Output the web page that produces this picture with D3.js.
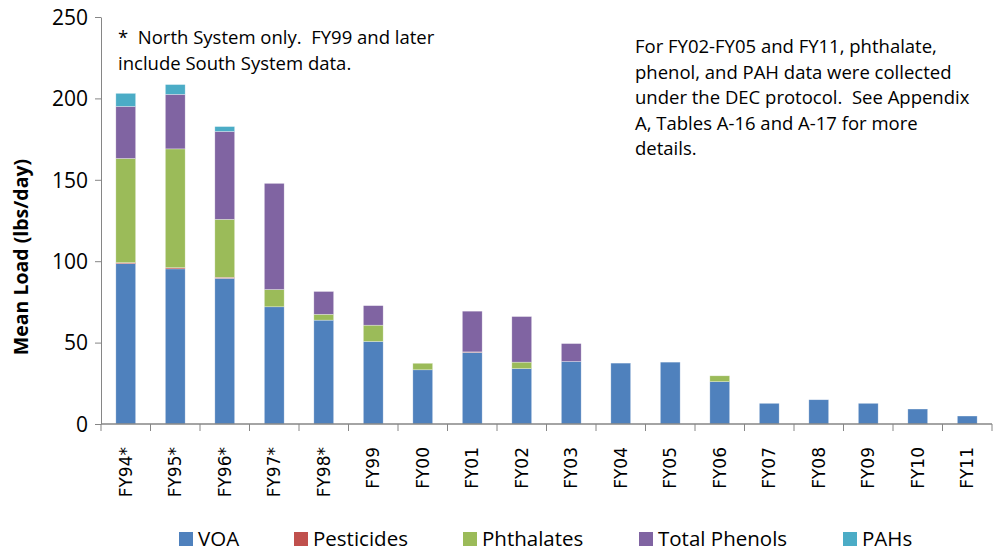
<!DOCTYPE html>
<html>
<head>
<meta charset="utf-8">
<script src="https://cdn.jsdelivr.net/npm/d3@7"></script>
<style>
  body { margin: 0; background: #fff; }
  svg text { fill: #000; }
</style>
</head>
<body>
<div class="chart"></div>
<script>
// categories and series
var years = ['FY94*', 'FY95*', 'FY96*', 'FY97*', 'FY98*', 'FY99', 'FY00', 'FY01', 'FY02',
  'FY03', 'FY04', 'FY05', 'FY06', 'FY07', 'FY08', 'FY09', 'FY10', 'FY11'];
var voa        = [98.5, 95.3, 89.5, 72, 63.8, 50.7, 33.3, 44, 34, 38.4, 37.4, 38, 26, 12.7, 14.9, 12.7, 9.2, 4.9];
var pesticides = [0.6, 0.7, 0.6, 0, 0, 0, 0, 0.3, 0, 0, 0, 0, 0, 0, 0, 0, 0, 0];
var phthalates = [64, 73, 35.6, 10.6, 3.6, 10, 4, 0, 4, 0, 0, 0, 3.6, 0, 0, 0, 0, 0];
var phenols    = [32, 33.5, 54, 65.2, 14, 12, 0, 25, 28, 11, 0, 0, 0, 0, 0, 0, 0, 0];
var pahs       = [8, 6, 3, 0, 0, 0, 0, 0, 0, 0, 0, 0, 0, 0, 0, 0, 0, 0];
var yTicks = [0, 50, 100, 150, 200, 250];

var seriesNames = ['VOA', 'Pesticides', 'Phthalates', 'Total Phenols', 'PAHs'];
var seriesValues = [voa, pesticides, phthalates, phenols, pahs];
var colors = ['#4f81bd', '#c0504d', '#9bbb59', '#8064a2', '#4bacc6'];

var noteLeft = ['*  North System only.  FY99 and later', 'include South System data.'];
var noteRight = ['For FY02-FY05 and FY11, phthalate,', 'phenol, and PAH data were collected',
  'under the DEC protocol.  See Appendix', 'A, Tables A-16 and A-17 for more', 'details.'];

var W = 994, H = 552;
var plot = { left: 101, right: 992, top: 17, bottom: 424 };

var svg = d3.select('.chart').append('svg')
  .attr('width', W).attr('height', H);

var x = d3.scaleBand().domain(years).range([plot.left, plot.right]).paddingInner(0.6).paddingOuter(0.3);
var y = d3.scaleLinear().domain([0, 250]).range([plot.bottom, plot.top]);

// build stacked table
var table = years.map(function(yr, i) {
  var row = { year: yr };
  seriesNames.forEach(function(s, k) { row[s] = seriesValues[k][i]; });
  return row;
});
var stack = d3.stack().keys(seriesNames)(table);

svg.append('g').selectAll('g')
    .data(stack)
  .enter().append('g')
    .attr('fill', function(d, k) { return colors[k]; })
  .selectAll('rect')
    .data(function(d) { return d; })
  .enter().append('rect')
    .filter(function(d) { return d[1] - d[0] > 0; })
    .attr('x', function(d) { return x(d.data.year); })
    .attr('width', x.bandwidth())
    .attr('y', function(d) { return y(d[1]); })
    .attr('height', function(d) { return y(d[0]) - y(d[1]); })
    .attr('stroke', '#fff').attr('stroke-opacity', 0.5).attr('stroke-width', 0.6);

// y axis
var yAxis = svg.append('g')
  .attr('transform', 'translate(' + plot.left + ',0)')
  .call(d3.axisLeft(y).tickValues(yTicks).tickSize(6).tickSizeOuter(0));
yAxis.select('.domain').attr('stroke', '#868686');
yAxis.selectAll('.tick line').attr('stroke', '#868686');
yAxis.selectAll('.tick text')
  .attr('x', -13)
  .style('font-family', 'Open Sans, sans-serif').style('font-size', '21px').attr('dy', '0.35em');

// x axis, ticks on the band boundaries
var step = x.step();
var xAxis = svg.append('g').attr('transform', 'translate(0,' + plot.bottom + ')');
xAxis.append('line').attr('x1', plot.left).attr('x2', plot.right)
  .attr('stroke', '#868686').attr('stroke-width', 1.5);
xAxis.selectAll('.xtick').data(d3.range(years.length + 1))
  .enter().append('line')
    .attr('x1', function(i) { return plot.left + i * step; })
    .attr('x2', function(i) { return plot.left + i * step; })
    .attr('y1', 0).attr('y2', 7)
    .attr('stroke', '#868686');
xAxis.selectAll('.xlabel').data(years)
  .enter().append('text')
    .attr('transform', function(d) {
      return 'translate(' + (x(d) + x.bandwidth() / 2) + ',23) rotate(-90)';
    })
    .attr('text-anchor', 'end').attr('dy', '0.35em')
    .style('font-family', 'DejaVu Sans, sans-serif').style('font-size', '17px')
    .text(function(d) { return d; });

// y axis title
svg.append('text')
  .attr('transform', 'translate(28,257) rotate(-90)')
  .attr('text-anchor', 'middle')
  .style('font-family', 'Open Sans, sans-serif').style('font-size', '19.5px').style('font-weight', 'bold')
  .text('Mean Load (lbs/day)');

// notes
svg.append('g').selectAll('text').data(noteLeft)
  .enter().append('text')
    .attr('x', 118).attr('y', function(d, i) { return 44 + i * 26; })
    .style('font-family', 'Open Sans, sans-serif').style('font-size', '18.5px')
    .style('white-space', 'pre')
    .text(function(d) { return d; });
svg.append('g').selectAll('text').data(noteRight)
  .enter().append('text')
    .attr('x', 635).attr('y', function(d, i) { return 53 + i * 25.5; })
    .style('font-family', 'Open Sans, sans-serif').style('font-size', '18.5px')
    .style('white-space', 'pre')
    .text(function(d) { return d; });

// legend
var legendX = [179, 294, 463, 639, 843];
var legend = svg.append('g').selectAll('g').data(seriesNames)
  .enter().append('g')
    .attr('transform', function(d, k) { return 'translate(' + legendX[k] + ',532)'; });
legend.append('rect').attr('width', 14).attr('height', 14)
  .attr('fill', function(d, k) { return colors[k]; });
legend.append('text').attr('x', 19).attr('y', 7).attr('dy', '0.35em')
  .style('font-family', 'Open Sans, sans-serif').style('font-size', '20.5px')
  .text(function(d) { return d; });
</script>
</body>
</html>
